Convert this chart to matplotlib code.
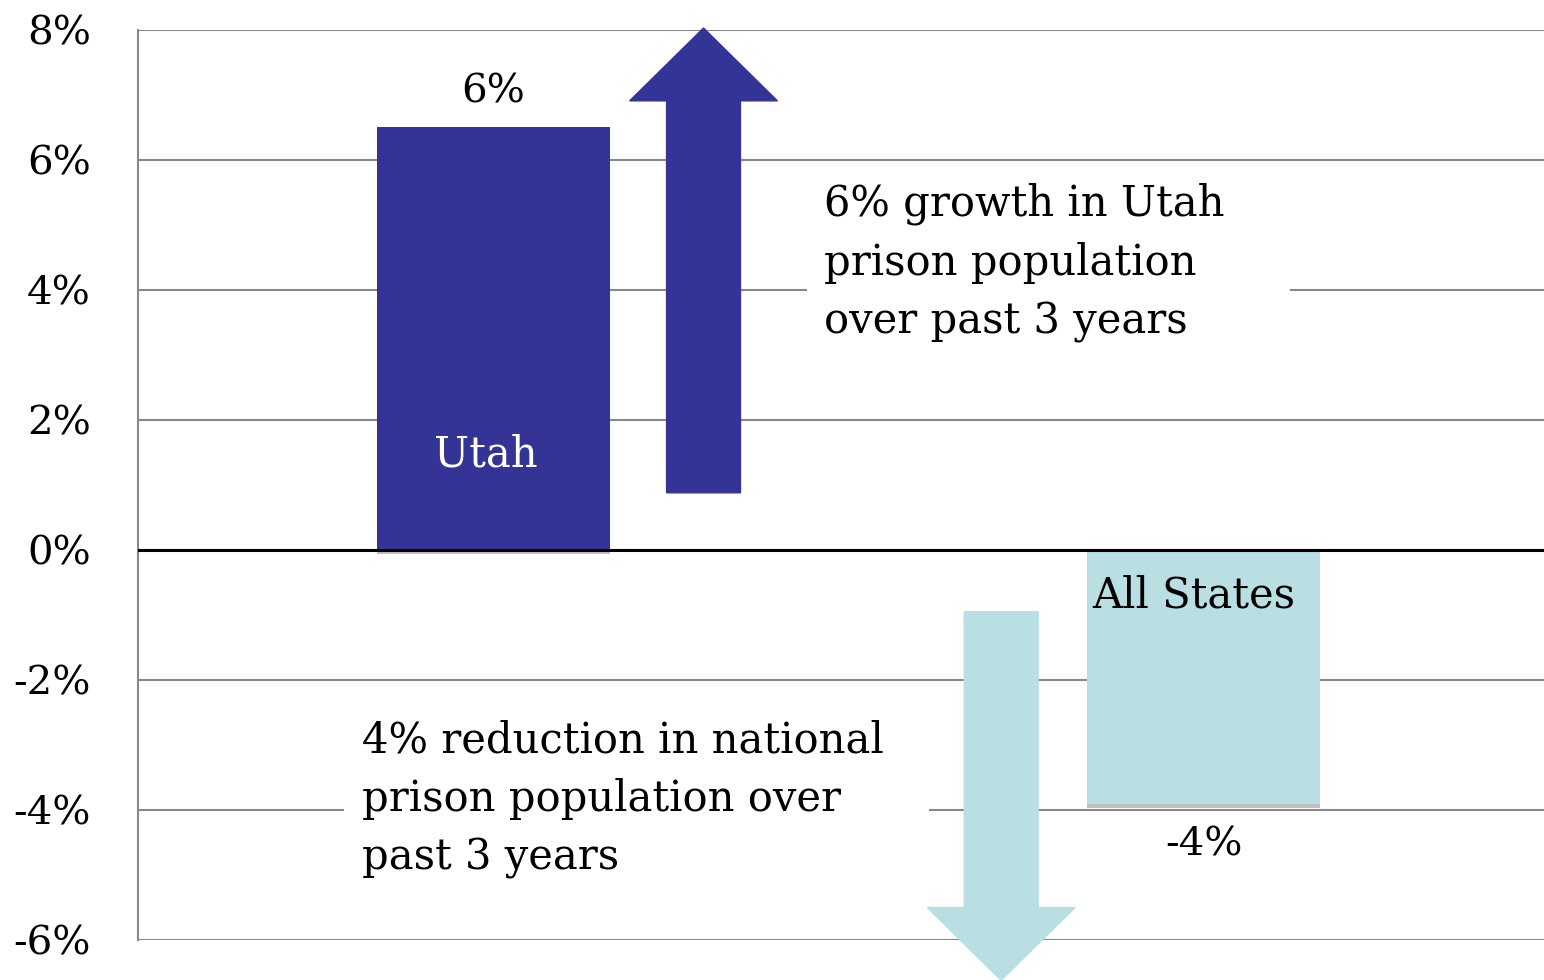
import matplotlib
matplotlib.use("Agg")
import matplotlib.pyplot as plt
import matplotlib.patheffects as pe
from matplotlib.patches import Rectangle

# data
categories = ["Utah", "All States"]
values = [6.5, -3.9]
value_labels = ["6%", "-4%"]
bar_colors = ["#343496", "#b9dfe3"]
yticks = [-6, -4, -2, 0, 2, 4, 6, 8]
ytick_labels = ["-6%", "-4%", "-2%", "0%", "2%", "4%", "6%", "8%"]
up_note = "6% growth in Utah\nprison population\nover past 3 years"
down_note = "4% reduction in national\nprison population over\npast 3 years"

plt.rcParams["font.family"] = ["DejaVu Serif"]

fig = plt.figure(figsize=(15.44, 9.8), dpi=100)
ax = fig.add_axes([138 / 1544, 40 / 980, 1 - 138 / 1544, 910 / 980])

x = list(range(len(categories)))
shadow = [pe.SimplePatchShadow(offset=(0, -3), alpha=0.25, shadow_rgbFace="k"), pe.Normal()]
bars = ax.bar(x, values, width=0.328, color=bar_colors, zorder=3)
for b in bars:
    b.set_path_effects(shadow)

ax.set_xlim(-0.5, 1.479)
ax.set_ylim(-6, 8)
ax.set_yticks(yticks)
ax.set_yticklabels(ytick_labels, fontsize=29)
ax.set_xticks([])
ax.tick_params(axis="y", length=0, pad=34)

ax.grid(axis="y", color="#888888", linewidth=1.5)
ax.set_axisbelow(True)
ax.axhline(0, color="black", linewidth=2.2, zorder=4)
for s in ["top", "right", "bottom"]:
    ax.spines[s].set_visible(False)
ax.spines["left"].set_color("#888888")
ax.spines["left"].set_linewidth(1.5)

# value labels and category names
ax.text(x[0], values[0] + 0.26, value_labels[0], ha="center", va="bottom", fontsize=29, zorder=5)
ax.text(x[1], values[1] - 0.35, value_labels[1], ha="center", va="top", fontsize=29, zorder=5)
ax.text(x[0] - 0.01, 1.28, categories[0], ha="center", va="baseline", fontsize=30,
        color="white", zorder=5)
ax.text(x[1] - 0.014, -0.88, categories[1], ha="center", va="baseline", fontsize=30,
        color="black", zorder=5)

# big arrows
ax.arrow(0.296, 0.88, 0, 8.03 - 0.88, width=0.104, head_width=0.208, head_length=1.12,
         length_includes_head=True, color="#343496", zorder=3, clip_on=False)
ax.arrow(0.715, -0.95, 0, -6.62 + 0.95, width=0.104, head_width=0.208, head_length=1.12,
         length_includes_head=True, color="#b9dfe3", zorder=3, clip_on=False)

# annotation texts with white panels hiding gridlines
ax.add_patch(Rectangle((0.442, 2.6), 1.121 - 0.442, 2.9, facecolor="white", edgecolor="none", zorder=2))
ax.add_patch(Rectangle((-0.21, -5.5), 0.614 + 0.21, 2.9, facecolor="white", edgecolor="none", zorder=2))
ax.text(0.466, 5.65, up_note, ha="left", va="top", fontsize=30, linespacing=1.5, zorder=5)
ax.text(-0.185, -2.6, down_note, ha="left", va="top", fontsize=30, linespacing=1.5, zorder=5)

fig.savefig("out.png", dpi=100)
